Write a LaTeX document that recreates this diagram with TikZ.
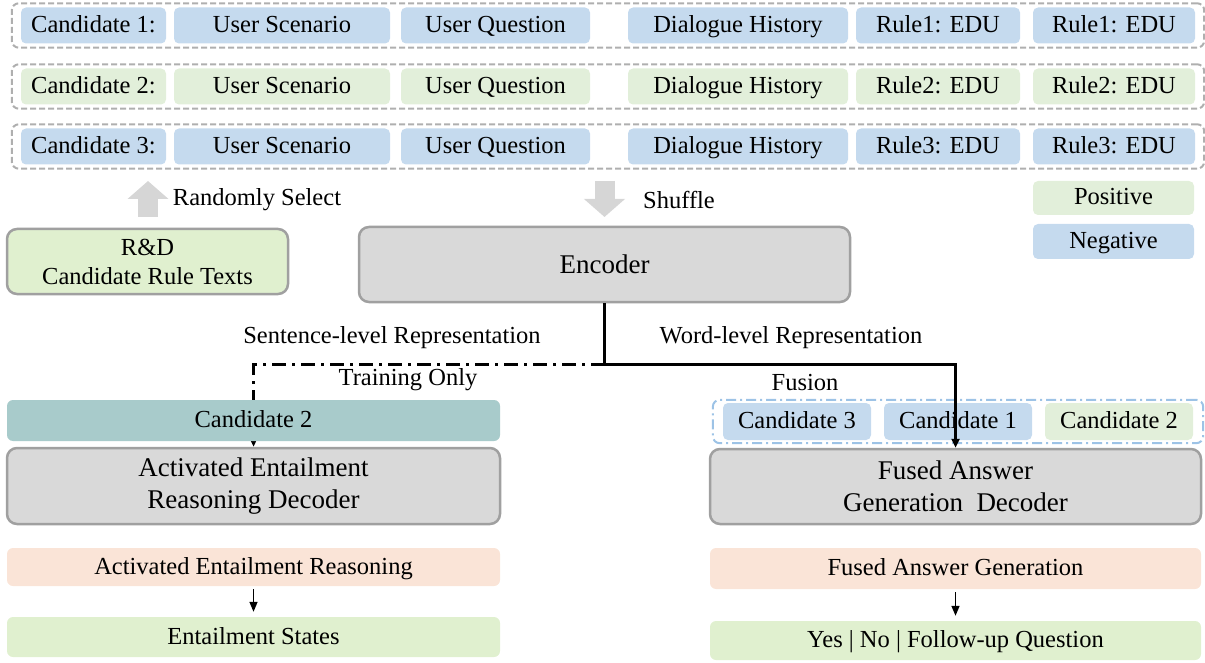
\documentclass[tikz,border=0pt]{standalone}
\usepackage{fontspec}
\setmainfont{Liberation Serif}
\usetikzlibrary{arrows.meta,fit,backgrounds}
\definecolor{negblue}{RGB}{197,218,238}
\definecolor{posgreen}{RGB}{226,239,218}
\definecolor{lightgreen}{RGB}{224,240,207}
\definecolor{peach}{RGB}{250,228,215}
\definecolor{tealbox}{RGB}{168,203,203}
\definecolor{boxgray}{RGB}{217,217,217}
\definecolor{edgegray}{RGB}{160,160,160}
\definecolor{dashgray}{RGB}{175,175,175}
\definecolor{dashblue}{RGB}{157,195,230}
\definecolor{arrowgray}{RGB}{214,214,214}

\begin{document}
\begin{tikzpicture}[x=1pt,y=-1pt,
  every node/.style={font=\fontsize{24.5}{30}\selectfont},
  cell/.style={rectangle,rounded corners=5pt,minimum height=36pt,inner sep=0pt,text height=18pt,text depth=4pt},
  negbox/.style={cell,fill=negblue},
  posbox/.style={cell,fill=posgreen},
  rowbox/.style={draw=dashgray,dash pattern=on 6pt off 3pt,line width=2pt,rounded corners=7pt,inner xsep=9pt,inner ysep=4pt},
  block/.style={rectangle,rounded corners=10pt,draw=edgegray,line width=2.5pt,fill=boxgray,align=center,font=\fontsize{27}{32}\selectfont},
  band/.style={rectangle,rounded corners=6pt,inner sep=0pt,align=center,text height=18pt,text depth=4pt},
  link/.style={line width=3pt},
  smallarrow/.style={line width=1.5pt,shorten <=3pt,shorten >=5pt,-{Triangle[length=10pt,width=8pt]}},
  bigarrow/.style={arrowgray,line width=20pt,-{Triangle[length=18pt,width=40pt]}}
]
  \useasboundingbox (0,0) rectangle (1205,663);

  \node[negbox,minimum width=145pt] (c1) at (93.5,25.5) {Candidate 1:};
  \node[negbox,minimum width=216pt] (c1us) at (282,25.5) {User Scenario};
  \node[negbox,minimum width=189pt] (c1uq) at (495.5,25.5) {User Question};
  \node[negbox,minimum width=220pt] (c1dh) at (738,25.5) {Dialogue History};
  \node[negbox,minimum width=164pt] (c1ra) at (938,25.5) {Rule1: EDU};
  \node[negbox,minimum width=162pt] (c1rb) at (1114,25.5) {Rule1: EDU};
  \node[rowbox,fit=(c1)(c1rb)] (row1) {};

  \node[posbox,minimum width=145pt] (c2) at (93.5,86.5) {Candidate 2:};
  \node[posbox,minimum width=216pt] (c2us) at (282,86.5) {User Scenario};
  \node[posbox,minimum width=189pt] (c2uq) at (495.5,86.5) {User Question};
  \node[posbox,minimum width=220pt] (c2dh) at (738,86.5) {Dialogue History};
  \node[posbox,minimum width=164pt] (c2ra) at (938,86.5) {Rule2: EDU};
  \node[posbox,minimum width=162pt] (c2rb) at (1114,86.5) {Rule2: EDU};
  \node[rowbox,fit=(c2)(c2rb)] (row2) {};

  \node[negbox,minimum width=145pt] (c3) at (93.5,146.5) {Candidate 3:};
  \node[negbox,minimum width=216pt] (c3us) at (282,146.5) {User Scenario};
  \node[negbox,minimum width=189pt] (c3uq) at (495.5,146.5) {User Question};
  \node[negbox,minimum width=220pt] (c3dh) at (738,146.5) {Dialogue History};
  \node[negbox,minimum width=164pt] (c3ra) at (938,146.5) {Rule3: EDU};
  \node[negbox,minimum width=162pt] (c3rb) at (1114,146.5) {Rule3: EDU};
  \node[rowbox,fit=(c3)(c3rb)] (row3) {};

  \node[posbox,minimum width=161pt,minimum height=34pt] (poskey) at (1113.5,198) {Positive};
  \node[negbox,minimum width=161pt,minimum height=35pt] (negkey) at (1113.5,241.5) {Negative};

  \node[block,fill=lightgreen,font=\fontsize{24.5}{29}\selectfont,minimum width=281pt,minimum height=65pt] (rnd) at (147.5,261.5) {R\&D\\Candidate Rule Texts};
  \node[block,minimum width=491pt,minimum height=75pt] (enc) at (604.5,264.5) {Encoder};

  \coordinate (selfoot) at (148,217);
  \coordinate (selhead) at (148,181);
  \coordinate (shuftop) at (enc.north |- selhead);
  \coordinate (shuffoot) at (enc.north |- selfoot);
  \draw[bigarrow] (selfoot) -- (selhead);
  \draw[bigarrow] (shuftop) -- (shuffoot);
  \node (sellbl) at (257,200) {Randomly Select};
  \node (shuflbl) at (679,200) {Shuffle};

  \node[band,fill=tealbox,minimum width=493pt,minimum height=41pt] (cand) at (253.5,420.5) {Candidate 2};
  \node[block,minimum width=493pt,minimum height=76pt] (aerdec) at (253.5,486) {Activated Entailment\\Reasoning Decoder};
  \node[band,fill=peach,minimum width=493pt,minimum height=38pt] (aer) at (253.5,567) {Activated Entailment Reasoning};
  \node[band,fill=lightgreen,minimum width=493pt,minimum height=40pt] (states) at (253.5,637) {Entailment States};

  \node[negbox,minimum width=148pt,minimum height=37pt] (fc3) at (797,421.5) {Candidate 3};
  \node[negbox,minimum width=148pt,minimum height=37pt] (fc1) at (958,421.5) {Candidate 1};
  \node[posbox,minimum width=148pt,minimum height=37pt] (fc2) at (1119,421.5) {Candidate 2};
  \node[draw=dashblue,line width=2pt,dash pattern=on 10pt off 4pt on 2pt off 4pt,rounded corners=7pt,inner xsep=10pt,inner ysep=3pt,fit=(fc3)(fc2)] (fusebox) {};
  \node[block,minimum width=491pt,minimum height=75pt] (fagdec) at (955.5,486.5) {Fused Answer\\Generation\ \ Decoder};
  \node[band,fill=peach,minimum width=491pt,minimum height=41pt] (fag) at (955.5,568.5) {Fused Answer Generation};
  \node[band,fill=lightgreen,minimum width=491pt,minimum height=39pt] (answer) at (955.5,640.5) {Yes | No | Follow-up Question};

  \node (sentlbl) at (392,338) {Sentence-level Representation};
  \node (wordlbl) at (791,338) {Word-level Representation};
  \node (trainlbl) at (408,380) {Training Only};
  \node (fuselbl) at (805,383) {Fusion};

  \coordinate (split) at ([yshift=-61pt]enc.south);
  \draw[link] (enc.south) -- (split);
  \draw[link,-{Triangle[length=9pt,width=8pt]}] (split) -| (fagdec.north);
  \begin{pgfonlayer}{background}
    \draw[link,dash pattern=on 14pt off 6pt on 3pt off 6pt,-{Triangle[length=9pt,width=8pt]}] (split) -| (aerdec.north);
  \end{pgfonlayer}
  \draw[smallarrow] (aer) -- (states);
  \draw[smallarrow] (fag) -- (answer);
\end{tikzpicture}
\end{document}
